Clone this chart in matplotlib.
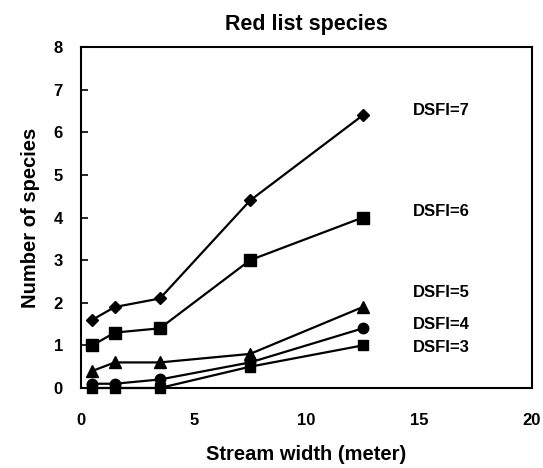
import matplotlib.pyplot as plt

plt.rcParams['font.family'] = ['Liberation Sans', 'DejaVu Sans']
plt.rcParams['font.weight'] = 'bold'

# stream width classes (meter)
width = [0.5, 1.5, 3.5, 7.5, 12.5]

# number of red list species per DSFI class
dsfi_7 = [1.6, 1.9, 2.1, 4.4, 6.4]
dsfi_6 = [1.0, 1.3, 1.4, 3.0, 4.0]
dsfi_5 = [0.4, 0.6, 0.6, 0.8, 1.9]
dsfi_4 = [0.1, 0.1, 0.2, 0.6, 1.4]
dsfi_3 = [0.0, 0.0, 0.0, 0.5, 1.0]

series = ['DSFI=7', 'DSFI=6', 'DSFI=5', 'DSFI=4', 'DSFI=3']
values = [dsfi_7, dsfi_6, dsfi_5, dsfi_4, dsfi_3]
markers = ['D', 's', '^', 'o', 's']
sizes = [6.5, 8, 8, 7.5, 7.5]
label_y = [6.5, 4.13, 2.23, 1.48, 0.94]

fig = plt.figure(figsize=(5.43, 4.68), dpi=100)
ax = fig.add_axes([81 / 543, 1 - 388 / 468, 451 / 543, 341 / 468])

for name, vals, m, s, ly in zip(series, values, markers, sizes, label_y):
    ax.plot(width, vals, color='black', marker=m, markersize=s,
            linewidth=1.6, clip_on=False, zorder=3)
    ax.text(14.7, ly, name, fontsize=12, fontweight='bold', va='center', ha='left')

ax.set_xlim(0, 20)
ax.set_ylim(0, 8)
ax.set_xticks([0, 5, 10, 15, 20])
ax.set_yticks(range(0, 9))
ax.tick_params(axis='both', direction='in', labelsize=12, width=1.2)
ax.tick_params(axis='x', length=0, pad=18)
ax.tick_params(axis='y', length=5, pad=13)
for sp in ax.spines.values():
    sp.set_linewidth(1.5)

ax.set_title('Red list species', fontsize=15.5, fontweight='bold', pad=12)
ax.set_xlabel('Stream width (meter)', fontsize=14.5, fontweight='bold', labelpad=12)
ax.set_ylabel('Number of species', fontsize=14.5, fontweight='bold', labelpad=10)

fig.savefig('out.png', dpi=100)
